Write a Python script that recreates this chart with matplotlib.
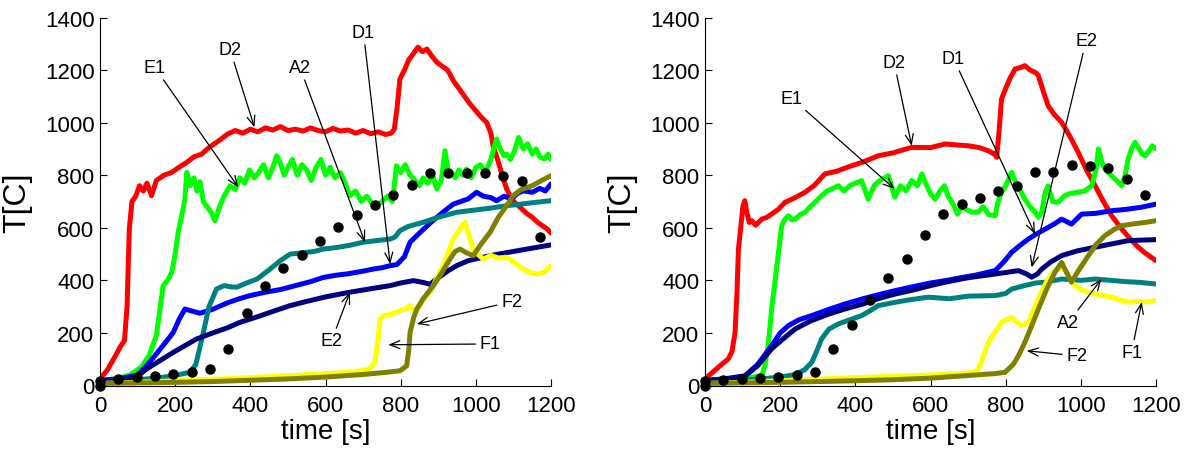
import matplotlib
matplotlib.use("Agg")
import matplotlib.pyplot as plt

plt.rcParams['font.family'] = ['Liberation Sans', 'DejaVu Sans']

# ---------------- LEFT PANEL DATA ----------------
rL_t = [0, 20, 40, 55, 65, 72, 78, 85, 95, 105, 115, 125, 137, 150, 170, 190, 210, 231, 250, 270, 290, 315, 340, 360, 380, 400, 420, 440, 460, 480, 500, 520, 540, 560, 580, 600, 620, 640, 660, 680, 700, 720, 740, 760, 775, 783, 790, 798, 810, 822, 835, 846, 858, 870, 882, 896, 910, 925, 940, 955, 970, 985, 1000, 1015, 1029, 1040, 1046, 1060, 1070, 1082, 1095, 1108, 1120, 1135, 1150, 1165, 1180, 1190, 1200]
rL_y = [25, 60, 110, 150, 170, 300, 595, 700, 720, 760, 740, 770, 722, 780, 800, 810, 830, 849, 870, 880, 905, 930, 957, 970, 960, 975, 965, 980, 972, 985, 970, 975, 968, 980, 970, 965, 978, 968, 972, 960, 970, 958, 965, 955, 960, 975, 1050, 1166, 1200, 1240, 1265, 1287, 1270, 1280, 1255, 1230, 1215, 1200, 1160, 1130, 1100, 1070, 1045, 1020, 1000, 960, 912, 850, 800, 748, 710, 690, 675, 655, 640, 620, 605, 595, 580]

gL_t = [0, 40, 80, 110, 130, 150, 168, 180, 191, 200, 208, 218, 226, 231, 240, 250, 258, 266, 275, 285, 295, 306, 318, 330, 346, 360, 372, 385, 398, 410, 422, 435, 448, 460, 470, 479, 490, 500, 512, 525, 537, 550, 562, 575, 588, 600, 612, 625, 640, 655, 665, 680, 695, 710, 725, 736, 750, 765, 778, 789, 800, 812, 825, 838, 850, 860, 872, 885, 896, 908, 918, 926, 935, 945, 955, 965, 975, 988, 1000, 1012, 1025, 1040, 1055, 1065, 1075, 1082, 1092, 1102, 1114, 1126, 1138, 1150, 1160, 1170, 1182, 1192, 1200]
gL_y = [20, 25, 40, 70, 113, 190, 380, 400, 431, 500, 583, 650, 710, 811, 760, 790, 740, 775, 700, 680, 660, 627, 680, 720, 760, 745, 790, 770, 820, 790, 810, 840, 790, 830, 874, 850, 800, 830, 860, 800, 840, 820, 780, 830, 860, 800, 830, 790, 810, 760, 722, 740, 700, 720, 690, 684, 700, 720, 700, 836, 810, 840, 800, 780, 760, 790, 770, 800, 748, 780, 893, 820, 810, 790, 820, 800, 823, 790, 830, 840, 810, 860, 938, 900, 874, 880, 860, 890, 944, 900, 920, 880, 900, 870, 862, 880, 860]

bL_t = [0, 50, 100, 124, 150, 175, 195, 210, 226, 240, 266, 300, 340, 370, 399, 440, 480, 520, 560, 594, 630, 660, 700, 727, 750, 772, 790, 810, 825, 850, 880, 913, 940, 960, 980, 1002, 1020, 1040, 1055, 1075, 1095, 1110, 1126, 1150, 1170, 1185, 1200]
bL_y = [20, 25, 40, 75, 120, 165, 202, 250, 291, 285, 275, 290, 315, 330, 342, 355, 365, 380, 395, 411, 420, 425, 435, 443, 448, 456, 460, 490, 545, 580, 620, 660, 690, 700, 710, 735, 720, 715, 703, 720, 710, 730, 741, 735, 750, 740, 767]

tL_t = [0, 50, 100, 150, 195, 239, 255, 265, 275, 290, 310, 330, 350, 364, 390, 418, 450, 480, 506, 540, 570, 594, 630, 670, 700, 740, 772, 785, 798, 820, 860, 900, 949, 1000, 1040, 1082, 1120, 1160, 1200]
tL_y = [15, 18, 22, 28, 37, 50, 80, 140, 202, 300, 367, 380, 375, 374, 390, 405, 440, 475, 500, 505, 510, 519, 525, 535, 545, 552, 557, 565, 589, 605, 621, 640, 659, 668, 675, 684, 690, 697, 703]

nL_t = [0, 50, 100, 124, 160, 195, 230, 257, 300, 340, 372, 420, 460, 506, 550, 600, 665, 720, 772, 800, 834, 860, 878, 900, 930, 949, 980, 1010, 1038, 1080, 1120, 1160, 1200]
nL_y = [15, 18, 35, 63, 95, 126, 155, 177, 200, 220, 240, 262, 282, 304, 320, 337, 355, 368, 380, 390, 399, 392, 385, 410, 440, 456, 475, 485, 494, 505, 515, 525, 535]

yL_t = [0, 100, 200, 300, 400, 500, 600, 680, 718, 732, 740, 745, 754, 772, 790, 810, 825, 838, 850, 860, 880, 900, 913, 925, 940, 955, 971, 982, 993, 1005, 1020, 1040, 1060, 1082, 1100, 1126, 1145, 1162, 1180, 1200]
yL_y = [8, 12, 18, 24, 30, 37, 45, 52, 63, 89, 180, 253, 266, 270, 280, 290, 304, 278, 300, 329, 360, 420, 456, 500, 557, 590, 621, 570, 519, 500, 481, 495, 485, 488, 470, 443, 430, 424, 430, 456]

oL_t = [0, 100, 200, 300, 400, 500, 600, 700, 760, 798, 816, 822, 825, 835, 843, 860, 887, 910, 931, 945, 958, 975, 993, 1015, 1038, 1060, 1082, 1099, 1120, 1150, 1175, 1200]
oL_y = [8, 10, 12, 15, 20, 25, 32, 42, 50, 56, 75, 140, 202, 260, 291, 330, 380, 430, 481, 510, 519, 505, 494, 540, 583, 640, 684, 722, 745, 760, 780, 798]

dot_t = [0, 0, 49, 98, 146, 195, 244, 293, 341, 390, 439, 488, 537, 585, 634, 683, 732, 780, 829, 878, 927, 976, 1025, 1073, 1122, 1171]
dotL_y = [0, 18, 25, 31, 37, 44, 50, 63, 139, 276, 377, 447, 498, 551, 604, 649, 687, 725, 764, 808, 808, 810, 808, 796, 777, 564]

# ---------------- RIGHT PANEL DATA ----------------
rR_t = [0, 20, 40, 62, 72, 80, 85, 89, 95, 101, 106, 111, 118, 124, 135, 151, 165, 177, 195, 213, 240, 266, 290, 319, 350, 390, 420, 461, 500, 550, 600, 639, 670, 701, 730, 754, 770, 776, 782, 789, 800, 812, 825, 840, 851, 865, 880, 887, 900, 913, 930, 949, 970, 993, 1015, 1038, 1060, 1082, 1109, 1130, 1150, 1170, 1185, 1200]
rR_y = [25, 50, 75, 101, 130, 202, 350, 519, 600, 684, 703, 660, 620, 627, 610, 633, 640, 652, 670, 697, 715, 735, 760, 805, 815, 836, 850, 874, 885, 906, 905, 919, 915, 912, 905, 893, 880, 868, 960, 1090, 1130, 1170, 1204, 1210, 1217, 1200, 1190, 1179, 1120, 1064, 1030, 1001, 950, 887, 820, 760, 700, 646, 595, 560, 530, 505, 490, 475]

gR_t = [0, 60, 120, 151, 160, 168, 178, 186, 195, 204, 213, 222, 231, 240, 253, 266, 280, 295, 310, 325, 340, 355, 370, 385, 400, 417, 434, 450, 465, 478, 488, 505, 520, 535, 550, 565, 577, 590, 600, 612, 625, 637, 647, 660, 672, 683, 695, 710, 727, 740, 755, 772, 780, 789, 800, 816, 830, 840, 851, 865, 878, 887, 896, 905, 913, 925, 940, 955, 970, 993, 1010, 1029, 1040, 1047, 1056, 1064, 1080, 1095, 1109, 1118, 1126, 1135, 1144, 1155, 1163, 1171, 1180, 1190, 1200]
gR_y = [20, 25, 30, 37, 80, 151, 300, 393, 500, 608, 633, 646, 630, 633, 650, 659, 680, 700, 722, 740, 750, 760, 740, 760, 770, 779, 709, 760, 780, 790, 798, 716, 760, 740, 780, 760, 805, 760, 730, 709, 740, 760, 720, 690, 652, 680, 670, 659, 660, 680, 650, 646, 700, 735, 760, 811, 760, 740, 709, 680, 660, 640, 660, 735, 760, 700, 697, 720, 730, 735, 740, 760, 820, 900, 850, 823, 800, 780, 760, 800, 862, 900, 925, 900, 880, 874, 890, 912, 900]

bR_t = [0, 50, 106, 140, 177, 200, 222, 250, 284, 330, 372, 420, 460, 506, 550, 600, 639, 680, 720, 772, 795, 816, 840, 860, 880, 905, 930, 949, 975, 1002, 1040, 1082, 1120, 1160, 1200]
bR_y = [20, 25, 37, 80, 151, 200, 228, 250, 266, 290, 310, 330, 345, 361, 375, 390, 399, 410, 420, 437, 470, 507, 535, 557, 575, 595, 615, 633, 614, 652, 655, 665, 670, 678, 690]

tR_t = [0, 50, 100, 150, 200, 240, 265, 284, 300, 310, 330, 355, 385, 417, 440, 461, 500, 540, 594, 650, 700, 772, 800, 816, 850, 880, 905, 949, 1000, 1038, 1080, 1120, 1160, 1200]
tR_y = [15, 18, 20, 25, 32, 42, 60, 88, 140, 177, 215, 234, 250, 266, 285, 304, 315, 325, 336, 330, 340, 342, 350, 367, 380, 390, 393, 405, 400, 405, 400, 395, 392, 386]

nR_t = [0, 50, 106, 140, 177, 210, 240, 280, 330, 372, 420, 460, 506, 550, 600, 639, 700, 772, 810, 834, 855, 869, 885, 896, 920, 949, 990, 1038, 1080, 1126, 1160, 1200]
nR_y = [18, 22, 35, 75, 139, 180, 215, 245, 272, 291, 310, 330, 348, 362, 380, 393, 410, 424, 432, 437, 425, 412, 425, 443, 470, 494, 512, 526, 538, 551, 553, 555]

yR_t = [0, 100, 200, 300, 400, 500, 600, 680, 715, 727, 740, 754, 770, 789, 800, 816, 830, 843, 860, 875, 887, 900, 913, 926, 940, 950, 958, 970, 984, 1000, 1020, 1050, 1082, 1105, 1126, 1150, 1175, 1200]
yR_y = [8, 12, 18, 24, 30, 35, 40, 45, 50, 60, 110, 164, 200, 240, 250, 259, 240, 228, 240, 290, 329, 370, 405, 430, 443, 450, 440, 410, 380, 365, 355, 345, 336, 325, 317, 320, 318, 323]

oR_t = [0, 100, 200, 300, 400, 500, 600, 700, 770, 798, 820, 834, 851, 870, 887, 910, 931, 949, 962, 975, 995, 1020, 1040, 1064, 1090, 1109, 1140, 1170, 1200]
oR_y = [8, 10, 12, 15, 18, 22, 28, 38, 45, 50, 80, 113, 164, 230, 291, 370, 431, 468, 430, 393, 440, 494, 535, 570, 595, 608, 615, 620, 627]

dotR_y = [0, 18, 21, 26, 28, 34, 40, 50, 139, 231, 325, 408, 481, 574, 652, 690, 712, 739, 758, 813, 813, 839, 834, 829, 786, 725]

xticks = [0, 200, 400, 600, 800, 1000, 1200]
yticks = [0, 200, 400, 600, 800, 1000, 1200, 1400]

# annotations: label, text position, arrow tip
annL = [("E1", (146, 1210), (368, 754)),
        ("D2", (346, 1278), (411, 982)),
        ("A2", (532, 1210), (705, 545)),
        ("D1", (701, 1344), (772, 462)),
        ("E2", (616, 170), (665, 355)),
        ("F2", (1095, 319), (843, 234)),
        ("F1", (1038, 158), (767, 155))]
annR = [("E1", (231, 1093), (504, 748)),
        ("D2", (503, 1230), (550, 912)),
        ("D1", (661, 1245), (878, 576)),
        ("E2", (1014, 1312), (869, 449)),
        ("A2", (967, 240), (1055, 405)),
        ("F1", (1135, 126), (1162, 317)),
        ("F2", (989, 113), (856, 132))]

RED = '#ff0000'
GREEN = '#00ff00'
BLUE = '#0000ff'
TEAL = '#008080'
NAVY = '#000080'
YELLOW = '#ffff00'
OLIVE = '#808000'

fig = plt.figure(figsize=(11.88, 4.52), dpi=100)
axL = fig.add_axes([100 / 1188, 1 - 386.5 / 452, 451 / 1188, 368 / 452])
axR = fig.add_axes([705 / 1188, 1 - 386.5 / 452, 451 / 1188, 368 / 452])

def draw(ax, series, dots_y, ann):
    for t, y, c in series:
        ax.plot(t, y, color=c, lw=3.6, solid_joinstyle='round', solid_capstyle='round')
    ax.plot(dot_t, dots_y, 'o', color='k', ms=6.5, clip_on=False, zorder=5)
    ax.set_xlim(0, 1200)
    ax.set_ylim(0, 1400)
    ax.set_xticks(xticks)
    ax.set_yticks(yticks)
    ax.tick_params(direction='in', length=5, width=0.8, labelsize=16)
    ax.tick_params(axis='x', pad=7)
    ax.tick_params(axis='y', pad=4)
    for s in ['top', 'right']:
        ax.spines[s].set_visible(False)
    for s in ['left', 'bottom']:
        ax.spines[s].set_linewidth(0.8)
    ax.set_xlabel('time [s]', fontsize=20, labelpad=1)
    ax.set_ylabel('T[C]', fontsize=23, labelpad=9)
    for lab, txy, tip in ann:
        ax.annotate(lab, xy=tip, xytext=txy, ha='center', va='center', fontsize=13,
                    arrowprops=dict(arrowstyle='->,head_length=0.55,head_width=0.22',
                                    color='k', lw=0.9, shrinkA=1, shrinkB=0),
                    zorder=6)

draw(axL, [(rL_t, rL_y, RED), (gL_t, gL_y, GREEN), (bL_t, bL_y, BLUE),
           (tL_t, tL_y, TEAL), (nL_t, nL_y, NAVY), (yL_t, yL_y, YELLOW),
           (oL_t, oL_y, OLIVE)], dotL_y, annL)
draw(axR, [(rR_t, rR_y, RED), (gR_t, gR_y, GREEN), (bR_t, bR_y, BLUE),
           (tR_t, tR_y, TEAL), (nR_t, nR_y, NAVY), (yR_t, yR_y, YELLOW),
           (oR_t, oR_y, OLIVE)], dotR_y, annR)

fig.savefig('out.png', dpi=100)
